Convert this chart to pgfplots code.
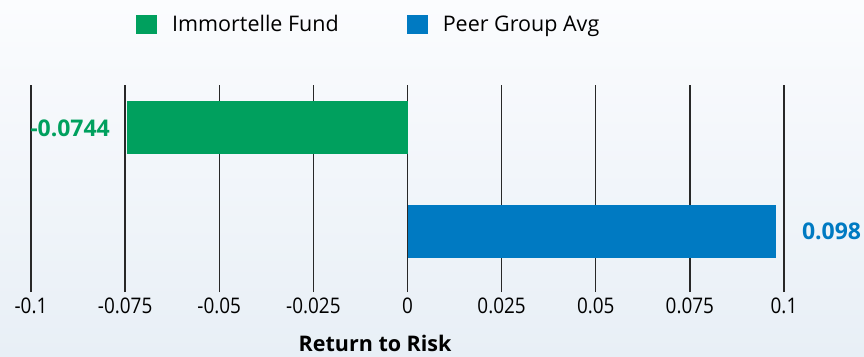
\documentclass[border=0pt]{standalone}
\usepackage{pgfplots}
\pgfplotsset{compat=1.18}
\usepackage{fontspec}
\setmainfont{Open Sans}[FakeStretch=0.88]
\newfontfamily\plainfont{Open Sans}
\definecolor{fundgreen}{RGB}{0,160,94}
\definecolor{peerblue}{RGB}{0,122,194}
\definecolor{bgtop}{RGB}{251,252,254}
\definecolor{bgbot}{RGB}{232,239,246}
\definecolor{gridc}{RGB}{40,40,40}
\begin{document}
\begin{tikzpicture}[x=1pt,y=1pt]
\shade[top color=bgtop, bottom color=bgbot] (0,0) rectangle (864,356);
\begin{axis}[
  at={(31pt,64pt)}, anchor=south west,
  scale only axis, width=753pt, height=207pt,
  xmin=-0.1, xmax=0.1, ymin=-0.585, ymax=1.415,
  xbar, bar width=53pt, bar shift=0pt,
  axis line style={draw=none},
  xtick={-0.1,-0.075,-0.05,-0.025,0,0.025,0.05,0.075,0.1},
  xticklabels={-0.1,-0.075,-0.05,-0.025,0,0.025,0.05,0.075,0.1},
  ytick=\empty,
  major tick length=0pt,
  xmajorgrids, grid style={gridc, line width=1.3pt},
  xticklabel style={font=\fontsize{21.5}{25}\selectfont, anchor=base, yshift=-21pt},
  xlabel={\textbf{Return to Risk}},
  xlabel style={font=\plainfont\fontsize{21.5}{26}\selectfont, at={(rel axis cs:0.457,0)}, anchor=base, yshift=-59pt},
  legend columns=2,
  legend style={at={(rel axis cs:0.1394,1.292)}, anchor=west, draw=none, fill=none,
    inner sep=0pt, font=\plainfont\fontsize{21.5}{25}\selectfont,
    /tikz/every odd column/.append style={column sep=15pt},
    /tikz/every even column/.append style={column sep=68pt},
    nodes={inner sep=0pt, anchor=west}},
  legend image code/.code={\fill[#1,draw=none] (0pt,-9.5pt) rectangle (21pt,9.5pt);},
  point meta=explicit symbolic,
  nodes near coords={\pgfplotspointmeta},
]
\addplot[fill=fundgreen, draw=none,
  every node near coord/.append style={anchor=east, xshift=-14pt, text=fundgreen, font=\plainfont\bfseries\fontsize{23}{28}\selectfont}]
  coordinates {(-0.0744,1) [-0.0744]};
\addlegendentry{Immortelle Fund}
\addplot[fill=peerblue, draw=none,
  every node near coord/.append style={anchor=west, xshift=22pt, text=peerblue, font=\plainfont\bfseries\fontsize{23}{28}\selectfont}]
  coordinates {(0.098,0) [0.098]};
\addlegendentry{Peer Group Avg}
\end{axis}
\pgfresetboundingbox
\useasboundingbox (0,0) rectangle (864,356);
\end{tikzpicture}
\end{document}
